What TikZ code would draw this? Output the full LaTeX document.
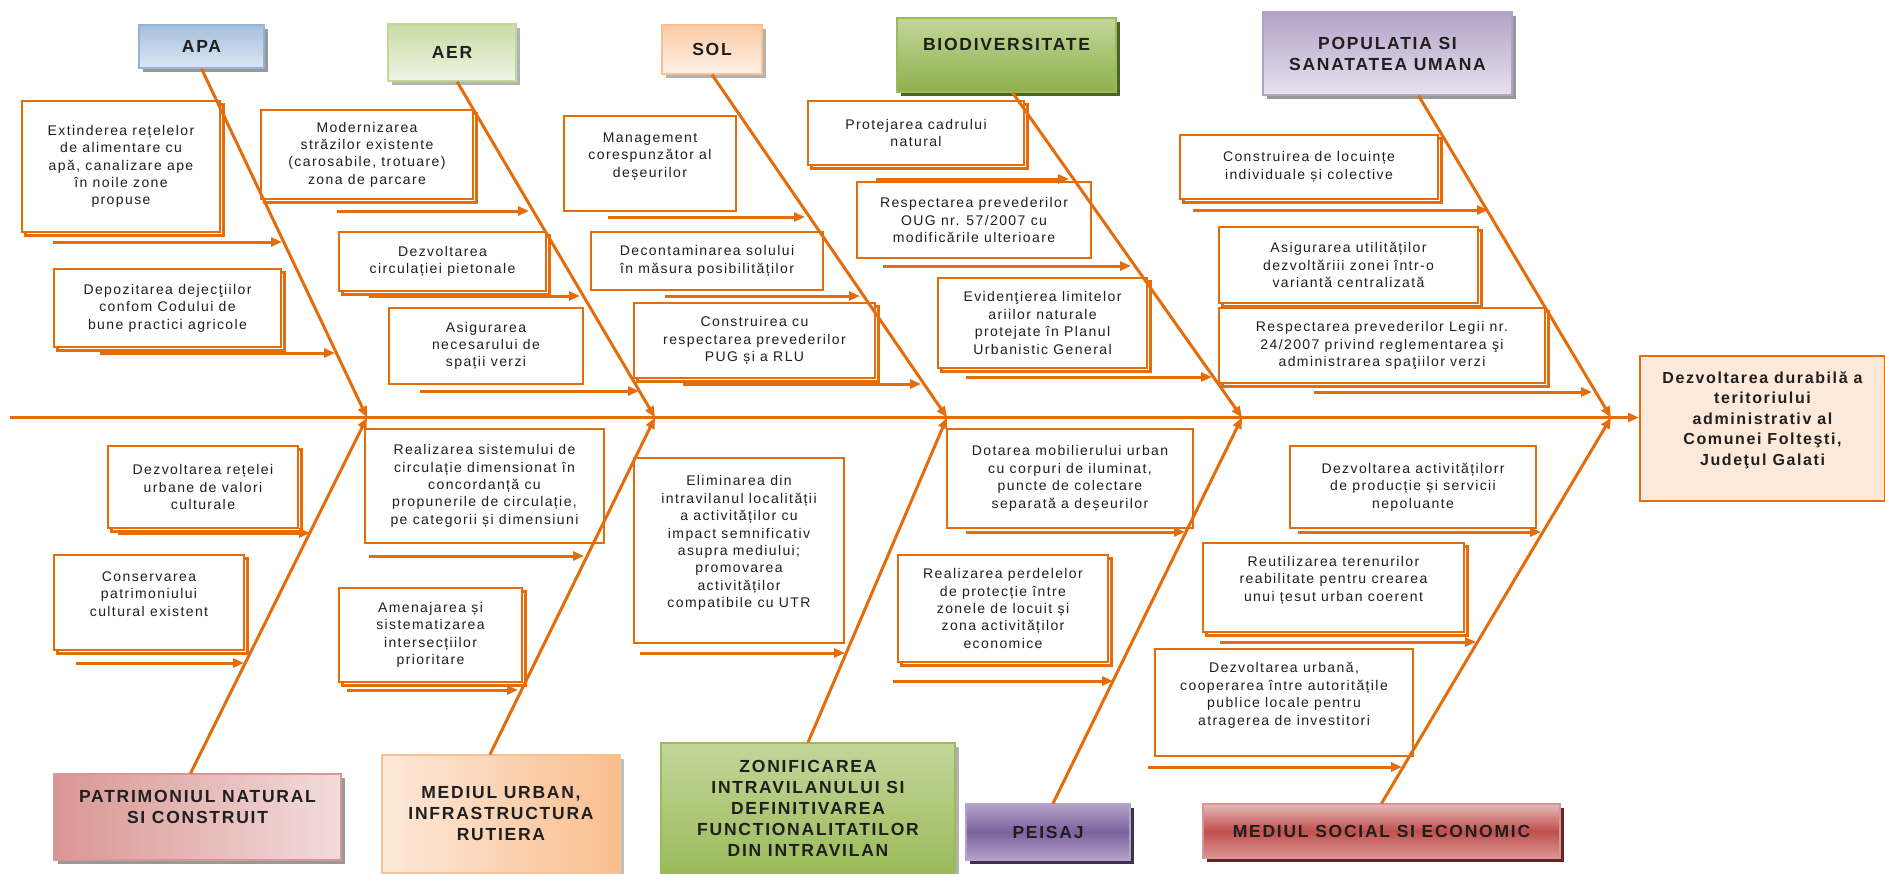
\documentclass[tikz,border=0pt]{standalone}
\usepackage{fontspec}
\setmainfont{Liberation Sans}[LetterSpace=10]
\usetikzlibrary{arrows.meta,shadows}
\definecolor{orng}{HTML}{E46C0A}
\definecolor{ink}{HTML}{1F1F1F}
\definecolor{goalF}{HTML}{FDE9D9}
\definecolor{apaT}{HTML}{A6C0DF}
\definecolor{apaB}{HTML}{DCE6F2}
\definecolor{apaL}{HTML}{95B3D7}
\definecolor{aerT}{HTML}{C9DCA5}
\definecolor{aerB}{HTML}{EEF4E4}
\definecolor{aerL}{HTML}{C3D69B}
\definecolor{solT}{HTML}{FBCBA5}
\definecolor{solB}{HTML}{FEF1E8}
\definecolor{solL}{HTML}{FAC090}
\definecolor{bioT}{HTML}{C3D69B}
\definecolor{bioB}{HTML}{8DB04A}
\definecolor{bioL}{HTML}{9BBB59}
\definecolor{bioS}{HTML}{4F6228}
\definecolor{popT}{HTML}{B3A2C7}
\definecolor{popB}{HTML}{E8E2EE}
\definecolor{patL}{HTML}{D99694}
\definecolor{patR}{HTML}{F2DCDB}
\definecolor{urbL}{HTML}{FDE9D9}
\definecolor{urbR}{HTML}{F9BE8F}
\definecolor{zonT}{HTML}{C3D69B}
\definecolor{zonB}{HTML}{9BBB59}
\definecolor{peiT}{HTML}{B3A2C7}
\definecolor{peiM}{HTML}{7D62A0}
\definecolor{peiS}{HTML}{3F3151}
\definecolor{socT}{HTML}{E6B9B8}
\definecolor{socM}{HTML}{C0504D}
\definecolor{socS}{HTML}{632523}
\begin{document}
\begin{tikzpicture}[x=1pt,y=-1pt,
    every node/.style={text=ink},
    cause/.style={draw=orng,line width=2.2pt,fill=white,align=center,inner sep=0pt,
      font=\fontsize{14}{17.4}\selectfont},
    twin/.style={cause,copy shadow={shadow xshift=3.5pt,shadow yshift=-3.5pt,
      draw=orng,fill=white,line width=2.2pt}},
    head/.style={line width=1.2pt,align=center,inner sep=0pt,
      font=\bfseries\fontsize{17.5}{21}\selectfont},
    shade/.style={drop shadow={shadow xshift=4pt,shadow yshift=-4pt,fill=#1,opacity=1}},
    rib/.style={draw=orng,line width=3pt,-{Triangle[length=11pt,width=9pt]}}]
  \useasboundingbox (0,0) rectangle (1885,873);
  % category heads
  \draw
    (201.5,46.5) node[head,shade=black!40,minimum width=125pt,minimum height=43pt,
      draw=apaL,top color=apaT,bottom color=apaB] (apa) {APA}
    (452,52.5) node[head,shade=black!30,minimum width=128pt,minimum height=57pt,
      draw=aerL,top color=aerT,bottom color=aerB] (aer) {AER}
    (712,49.5) node[head,shade=black!30,minimum width=100pt,minimum height=49pt,
      draw=solL,top color=solT,bottom color=solB] (sol) {SOL}
    (1006.5,55) node[head,shade=bioS,minimum width=219pt,minimum height=74pt,
      draw=bioL,top color=bioT,bottom color=bioB] (bio) {BIODIVERSITATE\\\mbox{}}
    (1387.5,53.5) node[head,shade=black!40,minimum width=249pt,minimum height=83pt,
      draw=popT,top color=popT,bottom color=popB] (pop) {POPULATIA SI\\SANATATEA UMANA}
    (197.5,817) node[head,shade=black!40,minimum width=287pt,minimum height=86pt,
      draw=patL,left color=patL,right color=patR] (pat) {PATRIMONIUL NATURAL\\SI CONSTRUIT\\\mbox{}}
    (501,814) node[head,shade=black!25,minimum width=238pt,minimum height=118pt,
      draw=solL,left color=urbL,right color=urbR] (urb) {MEDIUL URBAN,\\INFRASTRUCTURA\\RUTIERA}
    (808,808) node[head,shade=black!30,minimum width=294pt,minimum height=130pt,
      draw=zonB,top color=zonT,bottom color=zonB] (zon) {ZONIFICAREA\\INTRAVILANULUI SI\\DEFINITIVAREA\\FUNCTIONALITATILOR\\DIN INTRAVILAN}
    (1048,832) node[head,shade=peiS,minimum width=164pt,minimum height=56pt,
      draw=peiT,top color=peiT,bottom color=peiT,middle color=peiM] (pei) {PEISAJ}
    (1381.5,831) node[head,shade=socS,minimum width=357pt,minimum height=54pt,
      draw=patL,top color=socT,bottom color=patL,middle color=socM] (soc) {MEDIUL SOCIAL SI ECONOMIC}
    (1762.5,428.5) node[cause,fill=goalF,minimum width=245pt,minimum height=145pt,
      font=\bfseries\fontsize{16}{20.5}\selectfont] (goal)
      {Dezvoltarea durabilă a\\teritoriului\\administrativ al\\Comunei Folteşti,\\Judeţul Galati\\\mbox{}};
  % causes
  \draw
    (121,166.5) node[twin,minimum width=198pt,minimum height=131pt] (c1)
      {Extinderea rețelelor\\de alimentare cu\\apă, canalizare ape\\în noile zone\\propuse}
    (167.5,308) node[twin,minimum width=227pt,minimum height=78pt] (c2)
      {Depozitarea dejecţiilor\\confom Codului de\\bune practici agricole}
    (367,154.5) node[twin,minimum width=212pt,minimum height=89pt] (c3)
      {Modernizarea\\străzilor existente\\(carosabile, trotuare)\\zona de parcare}
    (442.5,261.5) node[twin,minimum width=207pt,minimum height=59pt] (c4)
      {Dezvoltarea\\circulației pietonale}
    (486,346) node[cause,minimum width=194pt,minimum height=76pt] (c5)
      {Asigurarea\\necesarului de\\spații verzi}
    (650,163.5) node[cause,minimum width=172pt,minimum height=95pt] (c6)
      {Management\\corespunzător al\\deșeurilor\\\mbox{}}
    (707,261) node[cause,minimum width=232pt,minimum height=58pt] (c7)
      {Decontaminarea solului\\în măsura posibilităților}
    (754.5,340.5) node[twin,minimum width=241pt,minimum height=75pt] (c8)
      {Construirea cu\\respectarea prevederilor\\PUG și a RLU}
    (916,133) node[twin,minimum width=216pt,minimum height=64pt] (c9)
      {Protejarea cadrului\\natural}
    (974,220) node[cause,minimum width=234pt,minimum height=76pt] (c10)
      {Respectarea prevederilor\\OUG nr. 57/2007 cu\\modificările ulterioare}
    (1042.5,323) node[twin,minimum width=209pt,minimum height=90pt] (c11)
      {Evidenţierea limitelor\\ariilor naturale\\protejate în Planul\\Urbanistic General}
    (1309,167) node[twin,minimum width=258pt,minimum height=64pt] (c12)
      {Construirea de locuințe\\individuale și colective}
    (1348.5,265) node[twin,minimum width=259pt,minimum height=76pt] (c13)
      {Asigurarea utilităților\\dezvoltăriii zonei într-o\\variantă centralizată}
    (1382,345.5) node[twin,minimum width=326pt,minimum height=75pt] (c14)
      {Respectarea prevederilor Legii nr.\\24/2007 privind reglementarea şi\\administrarea spaţiilor verzi}
    (203,487) node[twin,minimum width=190pt,minimum height=82pt] (c15)
      {Dezvoltarea rețelei\\urbane de valori\\culturale}
    (149,602.5) node[twin,minimum width=190pt,minimum height=95pt] (c16)
      {Conservarea\\patrimoniului\\cultural existent\\\mbox{}}
    (484.5,486) node[cause,minimum width=239pt,minimum height=114pt] (c17)
      {Realizarea sistemului de\\circulație dimensionat în\\concordanță cu\\propunerile de circulație,\\pe categorii și dimensiuni}
    (430.5,635) node[twin,minimum width=183pt,minimum height=94pt] (c18)
      {Amenajarea și\\sistematizarea\\intersecțiilor\\prioritare}
    (739,550.5) node[cause,minimum width=210pt,minimum height=185pt] (c19)
      {Eliminarea din\\intravilanul localității\\a activităților cu\\impact semnificativ\\asupra mediului;\\promovarea\\activităților\\compatibile cu UTR\\\mbox{}}
    (1070,478.5) node[cause,minimum width=246pt,minimum height=99pt] (c20)
      {Dotarea mobilierului urban\\cu corpuri de iluminat,\\puncte de colectare\\separată a deșeurilor}
    (1003,608.5) node[twin,minimum width=210pt,minimum height=107pt] (c21)
      {Realizarea perdelelor\\de protecție între\\zonele de locuit și\\zona activităților\\economice}
    (1413,487) node[cause,minimum width=246pt,minimum height=82pt] (c22)
      {Dezvoltarea activitățilorr\\de producție și servicii\\nepoluante}
    (1333.5,587.5) node[twin,minimum width=261pt,minimum height=89pt] (c23)
      {Reutilizarea terenurilor\\reabilitate pentru crearea\\unui țesut urban coerent\\\mbox{}}
    (1284,702.5) node[cause,minimum width=258pt,minimum height=107pt] (c24)
      {Dezvoltarea urbană,\\cooperarea între autoritățile\\publice locale pentru\\atragerea de investitori\\\mbox{}};
  % spine and arrow ends
  \path
    (10,417.5) coordinate (k0) (367,417.5) coordinate (k1) (655,417.5) coordinate (k2)
    (947,417.5) coordinate (k3) (1242,417.5) coordinate (k4) (1611,417.5) coordinate (k5)
    (53,242) coordinate (a1) (282,242) coordinate (b1)
    (100,353) coordinate (a2) (335,353) coordinate (b2)
    (337,211) coordinate (a3) (529,211) coordinate (b3)
    (369,296) coordinate (a4) (580,296) coordinate (b4)
    (420,391) coordinate (a5) (639,391) coordinate (b5)
    (608,217) coordinate (a6) (805,217) coordinate (b6)
    (665,296) coordinate (a7) (860,296) coordinate (b7)
    (683,384) coordinate (a8) (921,384) coordinate (b8)
    (876,179) coordinate (a9) (1069,179) coordinate (b9)
    (883,266) coordinate (a10) (1131,266) coordinate (b10)
    (966,377) coordinate (a11) (1212,377) coordinate (b11)
    (1193,210) coordinate (a12) (1488,210) coordinate (b12)
    (1314,392) coordinate (a14) (1592,392) coordinate (b14)
    (118,533) coordinate (a15) (310,533) coordinate (b15)
    (76,663) coordinate (a16) (244,663) coordinate (b16)
    (369,556) coordinate (a17) (584,556) coordinate (b17)
    (347,690) coordinate (a18) (518,690) coordinate (b18)
    (640,653) coordinate (a19) (845,653) coordinate (b19)
    (966,532) coordinate (a20) (1185,532) coordinate (b20)
    (893,681) coordinate (a21) (1113,681) coordinate (b21)
    (1298,532) coordinate (a22) (1541,532) coordinate (b22)
    (1220,642) coordinate (a23) (1476,642) coordinate (b23)
    (1148,767) coordinate (a24) (1402,767) coordinate (b24);
  \begin{scope}[rib]
    \draw (k0) to (k0 -| goal.west);
    \draw (apa.south) to (k1);
    \draw ([xshift=5pt]aer.south) to (k2);
    \draw (sol.south) to (k3);
    \draw ([xshift=6pt]bio.south) to (k4);
    \draw ([xshift=31pt]pop.south) to (k5);
    \draw ([xshift=-7pt]pat.north) to (k1);
    \draw ([xshift=-11pt]urb.north) to (k2);
    \draw (zon.north) to (k3);
    \draw ([xshift=5pt]pei.north) to (k4);
    \draw (soc.north) to (k5);
    \draw (a1) to (b1);
    \draw (a2) to (b2);
    \draw (a3) to (b3);
    \draw (a4) to (b4);
    \draw (a5) to (b5);
    \draw (a6) to (b6);
    \draw (a7) to (b7);
    \draw (a8) to (b8);
    \draw (a9) to (b9);
    \draw (a10) to (b10);
    \draw (a11) to (b11);
    \draw (a12) to (b12);
    \draw (a14) to (b14);
    \draw (a15) to (b15);
    \draw (a16) to (b16);
    \draw (a17) to (b17);
    \draw (a18) to (b18);
    \draw (a19) to (b19);
    \draw (a20) to (b20);
    \draw (a21) to (b21);
    \draw (a22) to (b22);
    \draw (a23) to (b23);
    \draw (a24) to (b24);
  \end{scope}
\end{tikzpicture}
\end{document}
